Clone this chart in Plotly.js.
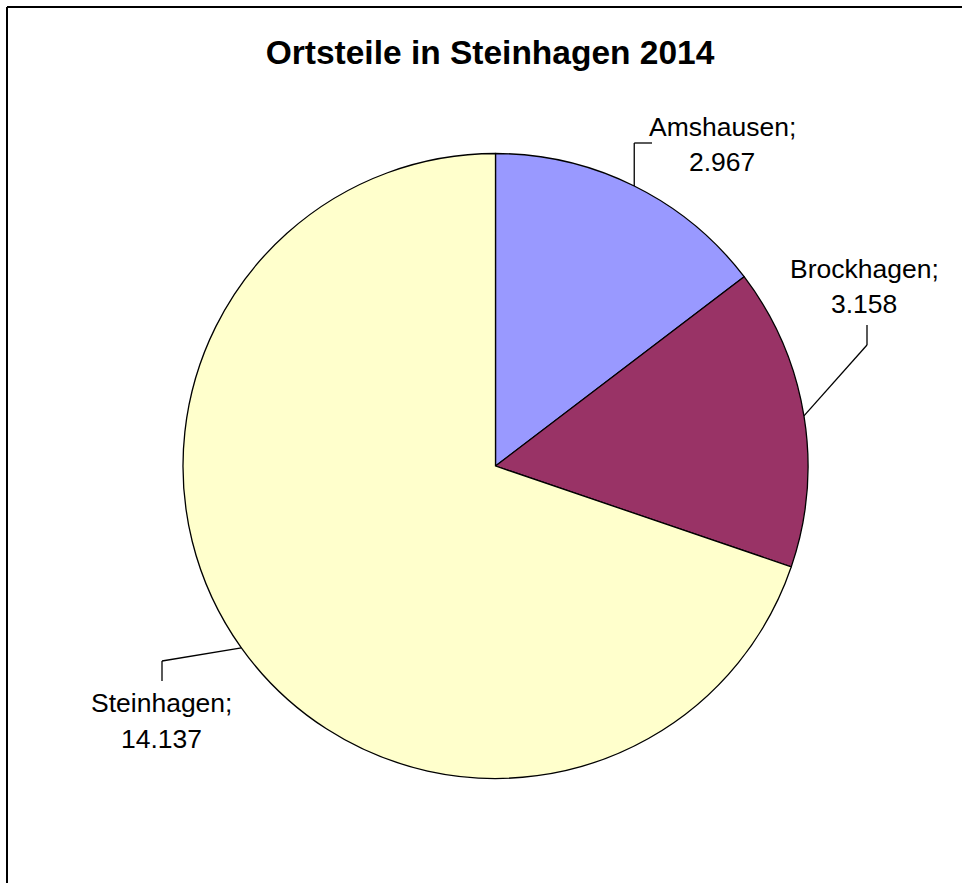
<!DOCTYPE html>
<html>
<head>
<meta charset="utf-8">
<script src="https://cdn.plot.ly/plotly-3.0.1.min.js"></script>
<style>html,body{margin:0;padding:0;background:#fff}#chart{width:962px;height:883px}</style>
</head>
<body>
<div id="chart"></div>
<script>
// Data
const labels = ["Amshausen", "Brockhagen", "Steinhagen"];
const values = [2967, 3158, 14137];
const valueText = ["2.967", "3.158", "14.137"];
const colors = ["#9999FF", "#993366", "#FFFFCC"];

// Layout constants (pixels)
const W = 962, H = 883;
const pieBox = {x0: 183, x1: 808, y0: 153, y1: 779};
// label placement: center x, name-line middle y, value-line middle y, leader elbow points after the edge
const labelPos = [
  {cx: 722, ny: 127, vy: 162, path: (e) => [[e[0], 143], [652, 143]]},
  {cx: 864, ny: 269, vy: 304, path: (e) => [[867, 345], [867, 325]]},
  {cx: 161, ny: 703, vy: 739, path: (e) => [[162, 661], [162, 681]]}
];

const px = x => x / W;
const py = y => 1 - y / H;

const total = values.reduce((a, b) => a + b, 0);
const cx = (pieBox.x0 + pieBox.x1) / 2, cy = (pieBox.y0 + pieBox.y1) / 2;
const R = Math.min(pieBox.x1 - pieBox.x0, pieBox.y1 - pieBox.y0) / 2;

const shapes = [];
const annotations = [];
let cum = 0;
const font = {family: "Liberation Sans, Arial, sans-serif", size: 26.5, color: "#000"};
values.forEach((v, i) => {
  const mid = (cum + v / 2) / total * 2 * Math.PI;
  cum += v;
  const edge = [cx + R * Math.sin(mid), cy - R * Math.cos(mid)];
  const pts = [edge].concat(labelPos[i].path(edge));
  for (let k = 0; k < pts.length - 1; k++) {
    shapes.push({type: "line", xref: "paper", yref: "paper",
      x0: px(pts[k][0]), y0: py(pts[k][1]), x1: px(pts[k+1][0]), y1: py(pts[k+1][1]),
      line: {color: "#000", width: 1.3}});
  }
  annotations.push({xref: "paper", yref: "paper", x: px(labelPos[i].cx), y: py(labelPos[i].ny),
    text: labels[i] + ";", showarrow: false, xanchor: "center", yanchor: "middle", font: font});
  annotations.push({xref: "paper", yref: "paper", x: px(labelPos[i].cx), y: py(labelPos[i].vy),
    text: valueText[i], showarrow: false, xanchor: "center", yanchor: "middle", font: font});
});

// frame (top and left edges)
shapes.push({type: "line", xref: "paper", yref: "paper", x0: px(7), y0: py(7), x1: px(W + 5), y1: py(7), line: {color: "#000", width: 2}});
shapes.push({type: "line", xref: "paper", yref: "paper", x0: px(7), y0: py(7), x1: px(7), y1: py(H + 5), line: {color: "#000", width: 2}});

const data = [{
  type: "pie",
  labels: labels,
  values: values,
  sort: false,
  direction: "clockwise",
  rotation: 0,
  textinfo: "none",
  hoverinfo: "label+value",
  marker: {colors: colors, line: {color: "#000", width: 1.3}},
  domain: {x: [px(pieBox.x0), px(pieBox.x1)], y: [py(pieBox.y1), py(pieBox.y0)]},
  showlegend: false
}];

const layout = {
  width: W, height: H,
  margin: {l: 0, r: 0, t: 0, b: 0},
  paper_bgcolor: "#fff",
  title: {text: "<b>Ortsteile in Steinhagen 2014</b>", x: px(490), xanchor: "center",
    y: py(52), yanchor: "middle", yref: "container",
    font: {family: "Liberation Sans, Arial, sans-serif", size: 33.5, color: "#000"}},
  shapes: shapes,
  annotations: annotations,
  showlegend: false
};

Plotly.newPlot("chart", data, layout, {staticPlot: true});
</script>
</body>
</html>
